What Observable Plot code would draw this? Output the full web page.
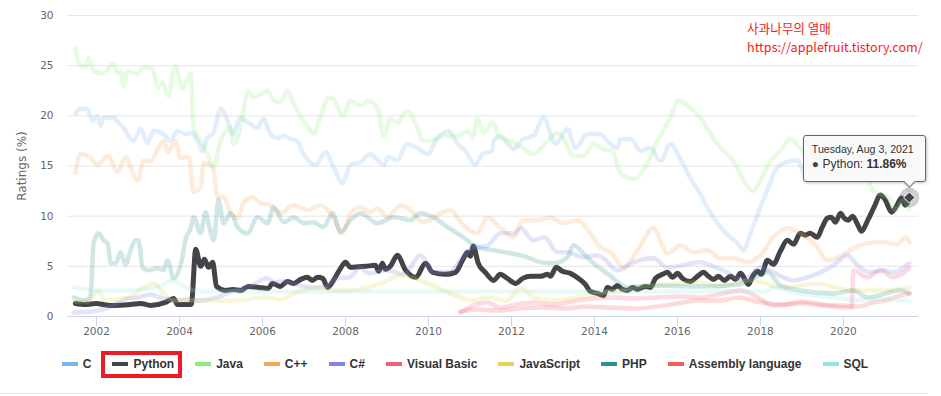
<!DOCTYPE html>
<html>
<head>
<meta charset="utf-8">
<script src="https://cdn.jsdelivr.net/npm/d3@7"></script>
<script src="https://cdn.jsdelivr.net/npm/@observablehq/plot@0.6"></script>
<style>
  body { margin: 0; background: #fff; }
  #wrap { position: relative; width: 941px; height: 396px; overflow: hidden; font-family: "Liberation Sans", Arial, sans-serif; }
  #chart { position: absolute; left: 0; top: 0; }
  #note { position: absolute; left: 747px; top: 18px; color: #f21c24; font-family: "Noto Sans CJK KR", "Liberation Sans", sans-serif; font-size: 12.6px; line-height: 19px; white-space: nowrap; }
  #legend { position: absolute; left: 0; width: 930px; top: 356px; height: 15px; display: flex; justify-content: center; gap: 21px; }
  .item { position: relative; display: flex; align-items: center; height: 15px; font: bold 12px "Liberation Sans", Arial, sans-serif; color: #333; white-space: nowrap; }
  .sw { width: 16px; height: 4px; margin-right: 5px; }
  .item.hl::after { content: ""; position: absolute; left: -11px; right: -8px; top: -5px; bottom: -7px; border: 4px solid #ec1c24; }
  #bottomline { position: absolute; left: 0; top: 393px; width: 928px; height: 1px; background: #e6e6e6; }
  #tip { position: absolute; width: 123px; height: 47px; box-sizing: border-box; background: rgba(249,249,249,0.95); border: 1px solid #666; border-radius: 3px; box-shadow: 1px 1px 3px rgba(0,0,0,0.25); padding: 7px 8px; color: #333; }
  #tip .h { font-family: "Liberation Sans", Arial, sans-serif; font-size: 10.6px; line-height: 13px; white-space: nowrap; }
  #tip .v { font-family: "Liberation Sans", Arial, sans-serif; font-size: 12px; line-height: 17px; white-space: nowrap; }
  #tip .dot { font-size: 12px; color: #434348; }
  #ptr { position: absolute; width: 8px; height: 8px; background: rgba(249,249,249,1); border-right: 1px solid #666; border-bottom: 1px solid #666; transform: rotate(45deg); }
</style>
</head>
<body>
<div id="wrap">
  <div id="chart"></div>
  <div id="note">사과나무의 열매<br>https://applefruit.tistory.com/</div>
  <div id="legend"></div>
  <div id="bottomline"></div>
</div>
<script>
const seriesNames = ["C", "Python", "Java", "C++", "C#", "Visual Basic", "JavaScript", "PHP", "Assembly language", "SQL"];
const seriesColors = ["#7cb5ec", "#434348", "#90ed7d", "#f7a35c", "#8085e9", "#f15c80", "#e4d354", "#2b908f", "#f45b5b", "#91e8e1"];
const highlighted = "Python";
const yTicks = [0, 5, 10, 15, 20, 25, 30];
const xTicks = [2002, 2004, 2006, 2008, 2010, 2012, 2014, 2016, 2018, 2020];
const tooltipDate = "Tuesday, Aug 3, 2021";
const yLabel = "Ratings (%)";

// [decimal year, rating %]
const cData = [[2001.49,20.2],[2001.61,20.7],[2001.78,20.7],[2001.90,19.5],[2002.02,20.0],[2002.10,19.0],[2002.17,19.8],[2002.41,19.8],[2002.53,19.3],[2002.65,18.8],[2002.89,17.5],[2003.06,18.7],[2003.23,17.3],[2003.37,18.5],[2003.61,18.2],[2003.78,17.5],[2003.95,18.5],[2004.14,18.2],[2004.31,18.3],[2004.43,17.5],[2004.55,16.5],[2004.67,17.8],[2004.82,18.3],[2004.99,20.7],[2005.16,19.5],[2005.28,18.2],[2005.47,19.8],[2005.66,19.3],[2005.88,18.8],[2006.02,19.7],[2006.19,18.2],[2006.36,17.8],[2006.51,18.0],[2006.67,17.7],[2006.84,17.5],[2006.92,16.8],[2007.04,15.9],[2007.28,15.1],[2007.52,16.4],[2007.71,14.9],[2007.93,13.3],[2008.12,15.1],[2008.36,15.4],[2008.60,16.2],[2008.77,15.6],[2008.92,15.1],[2009.04,15.9],[2009.25,15.6],[2009.49,17.2],[2009.73,16.8],[2009.98,16.2],[2010.22,17.8],[2010.48,18.5],[2010.70,17.2],[2010.89,16.5],[2011.13,15.1],[2011.30,16.2],[2011.54,16.5],[2011.57,17.5],[2011.73,18.0],[2012.05,16.7],[2012.29,17.7],[2012.53,18.0],[2012.77,19.8],[2013.06,17.2],[2013.35,18.7],[2013.54,16.8],[2013.83,18.2],[2014.14,18.2],[2014.31,17.5],[2014.55,16.8],[2014.63,17.7],[2014.87,17.7],[2015.11,16.5],[2015.35,16.8],[2015.59,15.5],[2015.83,17.2],[2016.07,15.7],[2016.31,13.8],[2016.55,12.2],[2016.80,10.3],[2017.04,8.9],[2017.28,7.9],[2017.45,7.3],[2017.59,6.6],[2017.76,8.3],[2018.00,10.9],[2018.17,12.6],[2018.41,14.9],[2018.65,15.4],[2018.89,15.6],[2019.04,14.3],[2019.28,13.6],[2019.60,14.0],[2019.90,15.5],[2020.10,16.5],[2020.40,17.0],[2020.70,16.0],[2021.00,17.3],[2021.30,15.0],[2021.45,13.8],[2021.59,12.5]];
const pythonData = [[2001.49,1.3],[2001.73,1.2],[2001.98,1.3],[2002.34,1.1],[2002.82,1.2],[2003.06,1.3],[2003.30,1.1],[2003.66,1.4],[2003.86,1.8],[2003.95,1.2],[2004.27,1.2],[2004.29,1.3],[2004.39,6.7],[2004.51,5.0],[2004.60,5.7],[2004.70,4.9],[2004.80,5.4],[2004.89,3.0],[2005.11,2.6],[2005.28,2.7],[2005.47,2.6],[2005.66,3.0],[2005.90,2.9],[2006.14,2.8],[2006.24,3.3],[2006.43,3.0],[2006.60,3.5],[2006.75,3.3],[2006.92,3.7],[2007.08,3.9],[2007.20,3.6],[2007.33,3.9],[2007.45,3.8],[2007.57,2.9],[2007.71,3.6],[2007.88,4.8],[2008.00,5.4],[2008.12,4.9],[2008.48,5.0],[2008.72,5.1],[2008.80,4.5],[2008.89,5.3],[2008.96,4.7],[2009.08,5.0],[2009.25,6.1],[2009.45,4.6],[2009.69,3.9],[2009.93,5.3],[2010.10,4.4],[2010.41,4.2],[2010.65,4.4],[2010.82,5.6],[2010.94,6.4],[2011.01,6.0],[2011.08,7.0],[2011.20,5.3],[2011.37,4.4],[2011.57,3.6],[2011.73,4.2],[2011.90,3.8],[2012.10,3.3],[2012.27,3.8],[2012.46,4.0],[2012.70,4.0],[2012.87,4.2],[2012.94,4.0],[2013.08,4.9],[2013.23,4.5],[2013.42,4.3],[2013.61,3.8],[2013.78,3.2],[2013.90,2.5],[2014.07,2.3],[2014.22,2.1],[2014.31,2.9],[2014.43,2.7],[2014.55,3.1],[2014.67,2.7],[2014.80,2.6],[2014.92,2.9],[2015.04,2.7],[2015.23,3.0],[2015.35,2.9],[2015.47,3.8],[2015.64,4.2],[2015.76,4.4],[2015.88,3.9],[2016.00,4.3],[2016.12,3.8],[2016.31,3.5],[2016.48,4.0],[2016.63,4.4],[2016.75,4.0],[2016.87,3.7],[2016.99,4.0],[2017.13,3.6],[2017.28,4.0],[2017.40,3.7],[2017.52,4.3],[2017.64,3.6],[2017.71,3.2],[2017.81,4.0],[2017.93,4.5],[2018.02,4.2],[2018.17,5.6],[2018.31,5.2],[2018.48,6.5],[2018.65,7.6],[2018.80,7.2],[2018.96,8.3],[2019.08,8.1],[2019.20,8.3],[2019.37,7.9],[2019.49,8.9],[2019.61,9.8],[2019.71,9.9],[2019.81,9.4],[2019.93,10.3],[2020.02,9.8],[2020.12,9.6],[2020.22,10.0],[2020.34,9.2],[2020.43,8.5],[2020.60,9.7],[2020.75,11.0],[2020.89,12.1],[2021.01,11.6],[2021.16,10.4],[2021.28,11.0],[2021.40,11.8],[2021.49,11.1],[2021.59,11.86]];
const javaData = [[2001.49,26.7],[2001.61,25.0],[2001.73,24.9],[2001.81,25.7],[2001.93,24.5],[2002.17,24.2],[2002.39,25.2],[2002.51,24.3],[2002.58,24.4],[2002.65,23.0],[2002.75,24.5],[2002.99,24.2],[2003.13,24.8],[2003.35,24.7],[2003.47,22.8],[2003.59,23.3],[2003.73,22.0],[2003.90,25.0],[2004.07,22.7],[2004.27,24.2],[2004.34,18.8],[2004.51,17.5],[2004.67,16.2],[2004.82,14.9],[2004.99,17.5],[2005.23,18.8],[2005.30,17.2],[2005.47,18.8],[2005.66,22.5],[2005.78,21.8],[2006.12,22.5],[2006.27,21.5],[2006.43,21.3],[2006.60,22.5],[2006.75,21.2],[2006.99,19.5],[2007.08,19.0],[2007.23,18.2],[2007.40,20.0],[2007.59,21.8],[2007.71,21.7],[2007.93,20.0],[2008.12,21.5],[2008.36,21.0],[2008.55,21.5],[2008.77,20.8],[2008.92,18.0],[2009.08,19.7],[2009.25,19.3],[2009.49,20.5],[2009.69,19.2],[2009.88,17.5],[2010.12,17.6],[2010.36,18.0],[2010.70,18.0],[2010.94,18.5],[2011.06,17.8],[2011.18,19.7],[2011.33,18.3],[2011.54,19.3],[2011.73,17.8],[2011.98,17.5],[2012.27,16.8],[2012.53,16.2],[2012.82,17.3],[2013.11,18.3],[2013.25,17.8],[2013.49,16.0],[2013.73,16.0],[2013.98,17.2],[2014.19,16.7],[2014.43,16.5],[2014.63,14.3],[2014.94,13.7],[2015.28,15.3],[2015.52,17.5],[2015.83,19.8],[2016.02,21.5],[2016.31,20.8],[2016.55,19.8],[2016.80,18.2],[2017.04,16.8],[2017.35,15.5],[2017.59,13.6],[2017.81,12.5],[2018.00,13.6],[2018.24,15.5],[2018.48,16.5],[2018.72,17.7],[2018.96,16.8],[2019.30,15.0],[2019.60,16.0],[2020.00,16.9],[2020.40,16.0],[2020.70,12.6],[2020.90,12.2],[2021.10,11.8],[2021.25,10.6],[2021.45,11.6],[2021.59,10.6]];
const cppData = [[2001.49,14.3],[2001.61,16.2],[2001.81,16.0],[2002.02,15.1],[2002.27,16.0],[2002.51,14.4],[2002.70,15.9],[2002.82,14.9],[2002.99,13.5],[2003.13,15.5],[2003.30,15.5],[2003.49,16.8],[2003.61,17.5],[2003.73,16.4],[2003.90,17.5],[2004.02,15.8],[2004.22,15.9],[2004.34,12.4],[2004.51,12.9],[2004.58,15.3],[2004.80,14.9],[2004.92,11.9],[2005.06,11.9],[2005.23,10.3],[2005.40,9.8],[2005.54,11.3],[2005.76,11.9],[2005.95,11.3],[2006.19,11.1],[2006.43,10.3],[2006.75,11.1],[2007.08,10.6],[2007.40,11.1],[2007.64,10.3],[2007.93,8.4],[2008.12,10.3],[2008.36,10.9],[2008.60,10.4],[2008.77,10.8],[2009.01,9.9],[2009.33,11.1],[2009.57,10.6],[2009.88,9.4],[2010.22,10.1],[2010.53,10.6],[2010.84,9.1],[2011.18,8.3],[2011.42,9.9],[2011.73,8.9],[2012.05,7.9],[2012.29,9.6],[2012.63,9.6],[2012.94,9.9],[2013.25,9.3],[2013.59,9.6],[2013.90,8.3],[2014.14,6.9],[2014.39,6.4],[2014.70,4.9],[2015.04,6.6],[2015.42,8.8],[2015.76,6.3],[2016.07,7.1],[2016.40,6.4],[2016.72,6.6],[2017.04,5.8],[2017.35,5.8],[2017.69,5.4],[2018.00,6.1],[2018.31,7.9],[2018.65,8.8],[2018.96,8.3],[2019.37,6.9],[2019.61,5.6],[2019.93,6.0],[2020.24,6.8],[2020.58,7.3],[2020.96,7.4],[2021.30,7.2],[2021.52,7.9],[2021.59,7.4]];
const csharpData = [[2001.45,0.4],[2001.90,0.5],[2002.30,0.9],[2002.75,1.8],[2003.00,1.9],[2003.30,2.2],[2003.60,1.8],[2003.90,1.6],[2004.20,1.7],[2004.50,1.6],[2004.90,1.9],[2005.20,2.4],[2005.50,2.8],[2005.80,3.2],[2006.10,3.8],[2006.30,3.4],[2006.50,3.5],[2006.80,3.2],[2007.20,2.9],[2007.50,3.0],[2007.80,3.8],[2008.10,3.9],[2008.36,4.9],[2008.55,4.3],[2009.00,4.6],[2009.40,4.2],[2009.81,6.1],[2010.12,4.4],[2010.50,4.4],[2010.77,5.6],[2011.08,6.9],[2011.40,7.0],[2011.73,8.3],[2012.05,8.3],[2012.22,8.8],[2012.53,7.6],[2012.80,7.9],[2013.11,6.4],[2013.35,6.4],[2013.73,5.9],[2014.07,6.1],[2014.22,5.8],[2014.55,4.6],[2014.94,5.4],[2015.42,5.8],[2015.76,4.9],[2016.55,5.4],[2016.80,5.1],[2017.20,4.4],[2017.59,3.6],[2018.00,4.9],[2018.31,4.4],[2018.80,3.6],[2019.13,3.9],[2019.45,4.4],[2019.76,5.1],[2020.10,6.1],[2020.34,5.1],[2020.65,4.4],[2020.96,4.6],[2021.20,4.4],[2021.59,5.3]];
const vbData = [[2010.77,0.4],[2010.94,0.8],[2011.08,1.1],[2011.42,1.4],[2011.73,0.9],[2012.10,1.2],[2012.53,1.4],[2013.00,1.2],[2013.59,1.6],[2013.98,1.8],[2014.50,1.9],[2014.94,1.8],[2015.50,1.9],[2016.00,2.0],[2016.55,1.9],[2017.00,2.2],[2017.52,2.6],[2017.90,2.0],[2018.31,1.1],[2018.96,1.3],[2019.50,1.1],[2020.00,0.9],[2020.20,0.9],[2020.24,4.6],[2020.58,3.9],[2020.89,4.6],[2021.20,3.9],[2021.59,4.8]];
const jsData = [[2001.49,1.5],[2001.80,1.5],[2002.05,2.6],[2002.20,1.6],[2002.75,1.9],[2003.13,2.9],[2003.37,3.3],[2003.60,2.4],[2003.86,1.6],[2004.51,1.6],[2005.30,1.6],[2006.12,1.9],[2006.43,1.7],[2006.75,2.3],[2007.40,2.9],[2007.71,2.6],[2008.12,2.6],[2008.92,3.4],[2009.33,4.1],[2009.98,3.3],[2010.53,2.3],[2011.08,1.6],[2011.42,1.9],[2011.90,1.6],[2012.22,2.9],[2012.53,1.9],[2013.01,1.6],[2013.59,1.9],[2014.14,2.3],[2014.63,2.6],[2014.94,2.9],[2015.50,3.1],[2016.55,3.4],[2017.00,3.0],[2017.76,3.6],[2018.55,2.9],[2019.37,3.3],[2020.17,2.6],[2020.96,2.6],[2021.59,2.9]];
const phpData = [[2001.45,1.9],[2001.73,1.6],[2001.85,2.0],[2001.93,7.3],[2002.05,8.3],[2002.17,7.6],[2002.27,7.3],[2002.34,5.3],[2002.46,5.3],[2002.58,6.4],[2002.70,5.2],[2002.82,6.6],[2002.94,7.6],[2003.01,7.6],[2003.11,4.9],[2003.23,4.6],[2003.47,4.8],[2003.61,4.6],[2003.71,5.6],[2003.86,3.8],[2004.07,5.9],[2004.14,7.6],[2004.27,8.8],[2004.34,9.9],[2004.51,8.3],[2004.63,10.4],[2004.70,9.3],[2004.82,7.6],[2004.94,11.6],[2005.06,9.3],[2005.23,10.3],[2005.40,8.9],[2005.64,8.3],[2005.88,9.9],[2006.12,9.3],[2006.27,10.9],[2006.51,9.4],[2006.75,9.9],[2006.99,9.3],[2007.23,9.4],[2007.47,8.9],[2007.69,10.3],[2007.88,8.4],[2008.12,9.6],[2008.36,10.3],[2008.77,9.3],[2009.16,9.9],[2009.57,9.6],[2009.81,10.3],[2010.12,9.9],[2010.46,8.9],[2010.84,7.9],[2011.18,6.9],[2011.57,6.6],[2011.98,6.3],[2012.39,5.9],[2012.70,5.4],[2013.01,5.3],[2013.35,5.9],[2013.49,7.1],[2013.73,6.3],[2014.00,5.2],[2014.20,4.6],[2014.40,4.0],[2014.60,3.3],[2014.80,2.9],[2015.10,3.0],[2015.42,3.1],[2016.55,3.0],[2017.50,3.2],[2018.17,4.4],[2018.48,3.1],[2018.96,2.6],[2019.76,2.3],[2020.24,2.6],[2020.58,1.9],[2021.37,2.6],[2021.59,2.3]];
const asmData = [[2010.77,0.5],[2011.20,0.7],[2011.70,0.6],[2012.20,0.8],[2012.80,0.9],[2013.30,0.8],[2013.80,1.0],[2014.30,0.9],[2014.94,0.8],[2015.50,1.0],[2016.00,1.3],[2016.50,1.6],[2017.00,1.6],[2017.50,1.9],[2017.80,1.6],[2018.20,1.3],[2018.60,1.2],[2019.00,1.5],[2019.50,1.2],[2020.00,1.1],[2020.40,1.0],[2020.70,1.4],[2021.00,1.6],[2021.30,2.0],[2021.59,2.3]];
const sqlData = [[2001.45,2.9],[2002.00,2.6],[2002.80,2.6],[2003.50,3.0],[2003.80,3.6],[2004.20,2.8],[2004.50,2.5],[2018.10,2.5],[2018.30,2.9],[2018.80,2.4],[2019.30,2.1],[2019.80,1.9],[2020.30,1.6],[2020.80,1.8],[2021.20,1.6],[2021.59,1.6]];

const seriesData = [cData, pythonData, javaData, cppData, csharpData, vbData, jsData, phpData, asmData, sqlData];

const rows = seriesData.map((arr, i) => arr.map(([year, value]) => ({name: seriesNames[i], year, value})));
const hoverPoint = rows[1][rows[1].length - 1];

const lineMarks = seriesNames.map((name, i) => Plot.line(rows[i], {
  x: "year", y: "value",
  stroke: seriesColors[i],
  strokeOpacity: name === highlighted ? 1 : 0.22,
  strokeWidth: name === highlighted ? 5 : 4.5,
  curve: "monotone-x",
  strokeLinejoin: "round", strokeLinecap: "round"
}));

const chart = Plot.plot({
  width: 941, height: 340,
  marginLeft: 67, marginRight: 23, marginTop: 15, marginBottom: 24,
  style: {fontFamily: "DejaVu Sans, sans-serif", fontSize: "10.5px", color: "#666", background: "transparent"},
  x: {type: "linear", domain: [2001.30, 2021.81]},
  y: {domain: [0, 30]},
  marks: [
    Plot.gridY(yTicks.filter(d => d > 0), {stroke: "#e6e6e6", strokeOpacity: 1}),
    Plot.axisY(yTicks, {tickSize: 0, tickPadding: 14, fill: "#666", label: null}),
    Plot.ruleY([0], {stroke: "#ccd6eb"}),
    Plot.axisX(xTicks, {tickSize: 10, tickPadding: 1, stroke: "#ccd6eb", fill: "#666", tickFormat: d => String(d), label: null}),
    Plot.text([yLabel], {frameAnchor: "left", textAnchor: "middle", dx: -45, rotate: -90, fill: "#666", fontSize: 12, text: d => d}),
    ...lineMarks,
    Plot.dot([hoverPoint], {x: "year", y: "value", r: 10, fill: "#434348", fillOpacity: 0.25, stroke: "none"}),
    Plot.dot([hoverPoint], {x: "year", y: "value", r: 5, symbol: "diamond2", fill: "#434348", stroke: "#fff", strokeWidth: 1})
  ]
});
document.getElementById("chart").appendChild(chart);

// legend
const legend = document.getElementById("legend");
seriesNames.forEach((name, i) => {
  const it = document.createElement("div");
  it.className = "item" + (name === highlighted ? " hl" : "");
  const sw = document.createElement("div");
  sw.className = "sw";
  sw.style.background = seriesColors[i];
  it.appendChild(sw);
  it.appendChild(document.createTextNode(name));
  legend.appendChild(it);
});

// tooltip anchored with the chart's scales
const px = chart.scale("x").apply(hoverPoint.year);
const py = chart.scale("y").apply(hoverPoint.value);
const wrap = document.getElementById("wrap");
const tip = document.createElement("div");
tip.id = "tip";
tip.style.left = (px - 106) + "px";
tip.style.top = (py - 62) + "px";
tip.innerHTML = `<div class="h">${tooltipDate}</div><div class="v"><span class="dot">●</span> Python: <b>${hoverPoint.value.toFixed(2)}%</b></div>`;
const ptr = document.createElement("div");
ptr.id = "ptr";
ptr.style.left = (px - 4) + "px";
ptr.style.top = (py - 20.5) + "px";
wrap.appendChild(tip);
wrap.appendChild(ptr);
</script>
</body>
</html>
